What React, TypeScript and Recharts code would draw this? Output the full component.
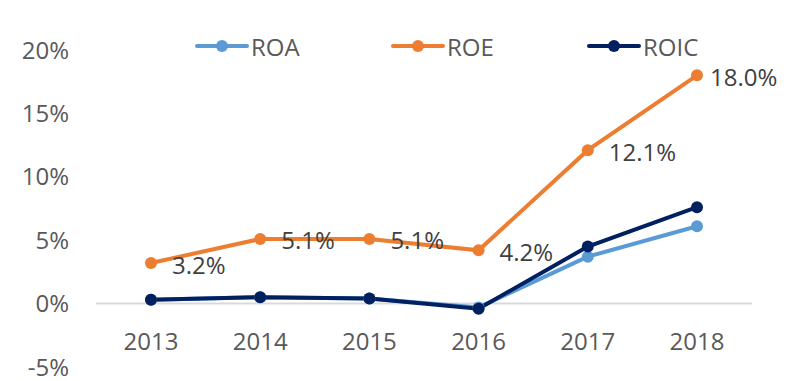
import { LineChart, Line, XAxis, YAxis, ReferenceLine, LabelList } from "recharts";

const years = ["2013", "2014", "2015", "2016", "2017", "2018"];
const roa = [0.3, 0.5, 0.4, -0.3, 3.7, 6.1];
const roe = [3.2, 5.1, 5.1, 4.2, 12.1, 18.0];
const roic = [0.3, 0.5, 0.4, -0.4, 4.5, 7.6];
const yTicks = [-5, 0, 5, 10, 15, 20];

const data = years.map((year, i) => ({ year, ROA: roa[i], ROE: roe[i], ROIC: roic[i] }));

const FONT = "'Open Sans', sans-serif";

const legendItems = [
  { name: "ROA", color: "#5B9BD5" },
  { name: "ROE", color: "#ED7D31" },
  { name: "ROIC", color: "#002060" },
];

function LegendBar() {
  return (
    <div style={{ position: "absolute", left: 0, top: 30, width: 795, height: 32, fontFamily: FONT }}>
      {legendItems.map((item, i) => (
        <div
          key={item.name}
          style={{ position: "absolute", left: 195 + i * 196, top: 0, display: "flex", alignItems: "center", height: 32 }}
        >
          <svg width={54} height={14}>
            <line x1={2} y1={7} x2={52} y2={7} stroke={item.color} strokeWidth={4} strokeLinecap="round" />
            <circle cx={27} cy={7} r={6} fill={item.color} />
          </svg>
          <span style={{ fontSize: 24, color: "#595959", marginLeft: 2 }}>{item.name}</span>
        </div>
      ))}
    </div>
  );
}

function XTick({ x, y, payload }: any) {
  return (
    <text x={x} y={y - 27} textAnchor="middle" dominantBaseline="central" fill="#595959" fontSize={24} fontFamily={FONT}>
      {payload.value}
    </text>
  );
}

function RoeLabel({ x, y, value, index }: any) {
  const dx = index === years.length - 1 ? 13 : 21;
  return (
    <text x={x + dx} y={y + 1} dominantBaseline="central" fill="#404040" fontSize={24} fontFamily={FONT}>
      {value.toFixed(1)}%
    </text>
  );
}

export default function App() {
  return (
    <div style={{ position: "absolute", left: 0, top: 0, width: 795, height: 381, background: "#fff" }}>
      <LineChart width={795} height={381} data={data} margin={{ top: 50, right: 43, bottom: 0, left: 0 }}>
        <XAxis
          dataKey="year"
          axisLine={false}
          tickLine={false}
          tickSize={0}
          tickMargin={0}
          height={14}
          padding={{ left: 55, right: 55 }}
          tick={<XTick />}
          interval={0}
        />
        <YAxis
          domain={[-5, 20]}
          ticks={yTicks}
          tickFormatter={(v: number) => `${v}%`}
          axisLine={false}
          tickLine={false}
          tickSize={0}
          tickMargin={27}
          width={96}
          tick={{ fontSize: 24, fill: "#595959", fontFamily: FONT }}
        />
        <ReferenceLine y={0} stroke="#D9D9D9" strokeWidth={2} />
        <Line dataKey="ROE" stroke="#ED7D31" strokeWidth={4} dot={{ r: 6, fill: "#ED7D31", strokeWidth: 0 }} isAnimationActive={false}>
          <LabelList dataKey="ROE" content={<RoeLabel />} />
        </Line>
        <Line dataKey="ROA" stroke="#5B9BD5" strokeWidth={4} dot={{ r: 6, fill: "#5B9BD5", strokeWidth: 0 }} isAnimationActive={false} />
        <Line dataKey="ROIC" stroke="#002060" strokeWidth={4} dot={{ r: 6, fill: "#002060", strokeWidth: 0 }} isAnimationActive={false} />
      </LineChart>
      <LegendBar />
    </div>
  );
}
